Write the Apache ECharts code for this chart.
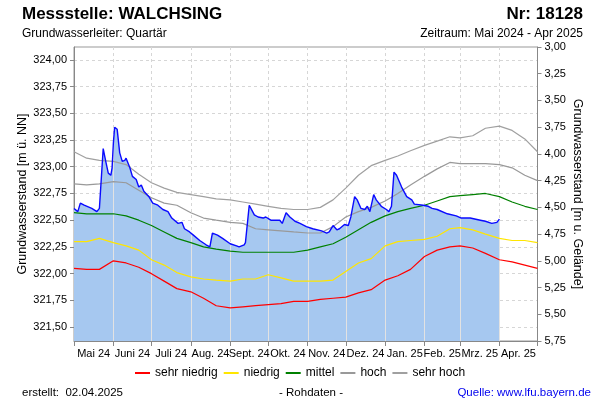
<!DOCTYPE html>
<html><head><meta charset="utf-8">
<script src="https://cdn.jsdelivr.net/npm/echarts@6/dist/echarts.min.js"></script>
<style>html,body{margin:0;padding:0;background:#fff}#c{width:600px;height:400px}</style>
</head><body><div id="c"></div>
<script>
// ---------- data ----------
const monthLabels = ['Mai 24','Juni 24','Juli 24','Aug. 24','Sept. 24','Okt. 24','Nov. 24','Dez. 24','Jan. 25','Feb. 25','Mrz. 25','Apr. 25'];
const monthStarts = ['2024-05-01','2024-06-01','2024-07-01','2024-08-01','2024-09-01','2024-10-01','2024-11-01','2024-12-01','2025-01-01','2025-02-01','2025-03-01','2025-04-01','2025-05-01'];
const leftTicks = [321.5,321.75,322.0,322.25,322.5,322.75,323.0,323.25,323.5,323.75,324.0];
const groundLevel = 327.12; // m ü. NN, links m ü. NN = Gelände - Tiefe
const depthMin = 3.0, depthMax = 5.75, depthStep = 0.25;

const pctDates = ['2024-05-01','2024-05-11','2024-05-21','2024-06-01','2024-06-11','2024-06-21','2024-07-01','2024-07-11','2024-07-21','2024-08-01','2024-08-11','2024-08-21','2024-09-01','2024-09-11','2024-09-21','2024-10-01','2024-10-11','2024-10-21','2024-11-01','2024-11-11','2024-11-21','2024-12-01','2024-12-11','2024-12-21','2025-01-01','2025-01-11','2025-01-21','2025-02-01','2025-02-11','2025-02-21','2025-03-01','2025-03-11','2025-03-21','2025-04-01','2025-04-11','2025-04-21','2025-05-01'];
const sehrNiedrig = [322.05,322.04,322.04,322.12,322.10,322.06,322.00,321.93,321.86,321.83,321.77,321.70,321.68,321.69,321.70,321.71,321.72,321.74,321.74,321.76,321.77,321.78,321.82,321.85,321.94,321.98,322.04,322.16,322.22,322.25,322.26,322.24,322.19,322.13,322.11,322.08,322.05];
const niedrig = [322.30,322.30,322.33,322.29,322.26,322.22,322.13,322.08,322.01,321.97,321.95,321.94,321.93,321.95,321.95,321.99,321.96,321.93,321.93,321.93,321.94,322.02,322.10,322.14,322.26,322.30,322.31,322.32,322.35,322.42,322.43,322.41,322.37,322.33,322.31,322.31,322.29];
const mittel = [322.57,322.56,322.56,322.56,322.54,322.50,322.45,322.39,322.33,322.29,322.25,322.23,322.21,322.20,322.20,322.20,322.20,322.20,322.22,322.25,322.28,322.34,322.41,322.48,322.54,322.58,322.61,322.64,322.68,322.72,322.73,322.74,322.75,322.72,322.67,322.63,322.60];
const hoch = [322.84,322.83,322.84,322.86,322.85,322.78,322.71,322.66,322.64,322.57,322.52,322.50,322.48,322.47,322.42,322.41,322.40,322.39,322.38,322.38,322.44,322.53,322.58,322.62,322.68,322.75,322.83,322.91,322.98,323.04,323.03,323.03,323.03,323.02,322.99,322.92,322.87];
const sehrHoch = [323.14,323.08,323.06,323.05,323.02,322.93,322.85,322.80,322.76,322.74,322.72,322.70,322.69,322.67,322.65,322.63,322.61,322.60,322.60,322.62,322.69,322.80,322.92,323.01,323.06,323.10,323.15,323.20,323.24,323.28,323.27,323.29,323.36,323.38,323.34,323.26,323.14];

const obsDates = ['2024-05-01','2024-05-04','2024-05-06','2024-05-09','2024-05-15','2024-05-19','2024-05-21','2024-05-24','2024-05-26','2024-05-28','2024-05-30','2024-05-31','2024-06-01','2024-06-02','2024-06-04','2024-06-06','2024-06-08','2024-06-10','2024-06-11','2024-06-14','2024-06-16','2024-06-19','2024-06-21','2024-06-23','2024-06-25','2024-06-29','2024-07-02','2024-07-06','2024-07-10','2024-07-14','2024-07-17','2024-07-22','2024-07-25','2024-07-27','2024-07-31','2024-08-03','2024-08-08','2024-08-13','2024-08-16','2024-08-18','2024-08-22','2024-08-26','2024-09-01','2024-09-06','2024-09-08','2024-09-12','2024-09-13','2024-09-16','2024-09-17','2024-09-20','2024-09-23','2024-09-27','2024-09-29','2024-10-03','2024-10-10','2024-10-12','2024-10-15','2024-10-18','2024-10-22','2024-10-26','2024-10-31','2024-11-05','2024-11-12','2024-11-16','2024-11-18','2024-11-21','2024-11-24','2024-11-26','2024-11-30','2024-12-03','2024-12-05','2024-12-08','2024-12-10','2024-12-13','2024-12-16','2024-12-18','2024-12-20','2024-12-23','2024-12-25','2024-12-29','2025-01-02','2025-01-04','2025-01-06','2025-01-08','2025-01-10','2025-01-14','2025-01-18','2025-01-22','2025-01-24','2025-01-31','2025-02-04','2025-02-07','2025-02-11','2025-02-19','2025-02-26','2025-03-02','2025-03-09','2025-03-17','2025-03-21','2025-03-26','2025-03-30','2025-04-01'];
const obsValues = [322.61,322.58,322.66,322.64,322.61,322.58,322.61,323.17,323.05,322.94,322.92,322.99,323.22,323.37,323.35,323.13,323.05,323.06,323.08,322.99,322.91,322.88,322.81,322.83,322.77,322.72,322.66,322.64,322.60,322.58,322.52,322.47,322.48,322.42,322.39,322.36,322.31,322.27,322.25,322.38,322.36,322.33,322.28,322.26,322.25,322.27,322.29,322.64,322.65,322.55,322.53,322.52,322.53,322.50,322.50,322.47,322.57,322.53,322.49,322.47,322.44,322.42,322.40,322.38,322.39,322.45,322.41,322.42,322.46,322.45,322.53,322.72,322.69,322.61,322.60,322.63,322.58,322.74,322.69,322.63,322.60,322.58,322.63,322.95,322.92,322.81,322.72,322.69,322.65,322.64,322.63,322.61,322.60,322.56,322.54,322.52,322.52,322.50,322.49,322.47,322.48,322.51];

// ---------- helpers ----------
function ts(s){const p=s.split('-');return Date.UTC(+p[0],+p[1]-1,+p[2]);}
const fmt = v => v.toFixed(2).replace('.', ',');
const FONT = '"Liberation Sans", Arial, sans-serif';
const monthTs = monthStarts.map(ts);
const monthMid = monthTs.slice(0,-1).map((t,i)=> (t + monthTs[i+1]) / 2);
const leftMin = groundLevel - depthMax, leftMax = groundLevel - depthMin;
const obsT = obsDates.map(ts);
const obsData = obsT.map((t,i)=>[t, obsValues[i]]);
const pctT = pctDates.map(ts);
const mk = arr => pctT.map((t,i)=>[t, arr[i]]);
function interpObs(t){
  for (let i=0;i<obsT.length-1;i++){
    if (t>=obsT[i] && t<=obsT[i+1]) return obsValues[i] + (obsValues[i+1]-obsValues[i])*(t-obsT[i])/(obsT[i+1]-obsT[i]);
  }
  return null;
}
const monthLineData = monthTs.filter(t => t>obsT[0] && t<=obsT[obsT.length-1]).map(t => [t, interpObs(t)]);

const chart = echarts.init(document.getElementById('c'), null, {renderer:'canvas'});
const lineSeries = (name, arr, color) => ({
  name, type:'line', data: mk(arr), showSymbol:false, symbol:'none', z:4,
  lineStyle:{color, width:1.2}, itemStyle:{color}, silent:true
});
chart.setOption({
  animation:false,
  textStyle:{fontFamily:FONT},
  grid:{left:74, right:62.5, top:47, bottom:59, show:true, borderColor:'#999', borderWidth:1, backgroundColor:'transparent'},
  xAxis:{
    type:'value', min:monthTs[0], max:monthTs[monthTs.length-1],
    axisLine:{lineStyle:{color:'#888'}},
    axisTick:{show:true, customValues:monthTs, length:5, lineStyle:{color:'#888'}},
    axisLabel:{customValues:monthMid, margin:7, color:'#000', fontSize:11, fontFamily:FONT, hideOverlap:false,
      formatter: v => { let best=0; monthMid.forEach((m,i)=>{ if(Math.abs(m-v)<Math.abs(monthMid[best]-v)) best=i; }); return monthLabels[best]; }},
    splitLine:{show:true, lineStyle:{color:'#d6d6d6', type:[3,3], width:1}}
  },
  yAxis:[
    {type:'value', position:'left', min:leftMin, max:leftMax,
     name:'Grundwasserstand [m ü. NN]', nameLocation:'middle', nameGap:45, nameMoveOverlap:false,
     nameTextStyle:{fontSize:12.5, color:'#000', fontFamily:FONT},
     axisLine:{show:true, lineStyle:{color:'#888'}},
     axisTick:{show:true, customValues:leftTicks, length:4, lineStyle:{color:'#888'}},
     axisLabel:{customValues:leftTicks, formatter:fmt, margin:7, color:'#000', fontSize:11, fontFamily:FONT},
     splitLine:{show:true, lineStyle:{color:'#d6d6d6', type:[3,3], width:1}}},
    {type:'value', position:'right', inverse:true, min:depthMin, max:depthMax, interval:depthStep,
     name:'Grundwasserstand [m u. Gelände]', nameLocation:'middle', nameGap:33, nameRotate:-90, nameMoveOverlap:false,
     nameTextStyle:{fontSize:12.5, color:'#000', fontFamily:FONT},
     axisLine:{show:true, lineStyle:{color:'#888'}},
     axisTick:{show:true, length:4, lineStyle:{color:'#888'}},
     axisLabel:{formatter:fmt, margin:7, color:'#000', fontSize:11, fontFamily:FONT},
     splitLine:{show:false}}
  ],
  legend:{
    left:135, top:367, padding:0, itemWidth:15, itemHeight:2, itemGap:6, icon:'rect', selectedMode:false,
    textStyle:{fontSize:12, color:'#000', fontFamily:FONT},
    data:['sehr niedrig','niedrig','mittel','hoch','sehr hoch']
  },
  series:[
    {name:'Messwerte Fläche', type:'line', data:obsData, showSymbol:false, symbol:'none', z:2, silent:true,
     lineStyle:{width:0}, areaStyle:{color:'#a6c8f0', opacity:1, origin:'start'}},
    {name:'Monatslinien', type:'custom', data:monthLineData, z:3, silent:true,
     renderItem:(params, api)=>{
       const top = api.coord([api.value(0), api.value(1)]);
       const bot = api.coord([api.value(0), leftMin]);
       const x = Math.round(top[0]) + 0.5;
       return {type:'line', shape:{x1:x, y1:top[1]+1.5, x2:x, y2:bot[1]}, style:{stroke:'#e2e2e2', lineWidth:1}};
     }},
    lineSeries('sehr niedrig', sehrNiedrig, '#ff0000'),
    lineSeries('niedrig', niedrig, '#ffe600'),
    lineSeries('mittel', mittel, '#008000'),
    lineSeries('hoch', hoch, '#999999'),
    lineSeries('sehr hoch', sehrHoch, '#a0a0a0'),
    {name:'Messwerte', type:'line', data:obsData, showSymbol:false, symbol:'none', z:5, silent:true,
     lineStyle:{color:'#0a0aff', width:1.4}, itemStyle:{color:'#0a0aff'}}
  ],
  graphic:[
    {type:'text', x:22, y:14, style:{text:'Messstelle: WALCHSING', font:'bold 17px '+FONT, fill:'#000', align:'left', verticalAlign:'middle'}},
    {type:'text', x:583, y:14, style:{text:'Nr: 18128', font:'bold 17px '+FONT, fill:'#000', align:'right', verticalAlign:'middle'}},
    {type:'text', x:22, y:33.5, style:{text:'Grundwasserleiter: Quartär', font:'12px '+FONT, fill:'#000', align:'left', verticalAlign:'middle'}},
    {type:'text', x:583, y:33.5, style:{text:'Zeitraum: Mai 2024 - Apr 2025', font:'12px '+FONT, fill:'#000', align:'right', verticalAlign:'middle'}},
    {type:'text', x:22, y:393, style:{text:'erstellt:  02.04.2025', font:'11.5px '+FONT, fill:'#000', align:'left', verticalAlign:'middle'}},
    {type:'text', x:311, y:393, style:{text:'- Rohdaten -', font:'11.5px '+FONT, fill:'#000', align:'center', verticalAlign:'middle'}},
    {type:'text', x:591, y:393, style:{text:'Quelle: www.lfu.bayern.de', font:'11.5px '+FONT, fill:'#0000ee', align:'right', verticalAlign:'middle'}}
  ]
});
</script></body></html>
